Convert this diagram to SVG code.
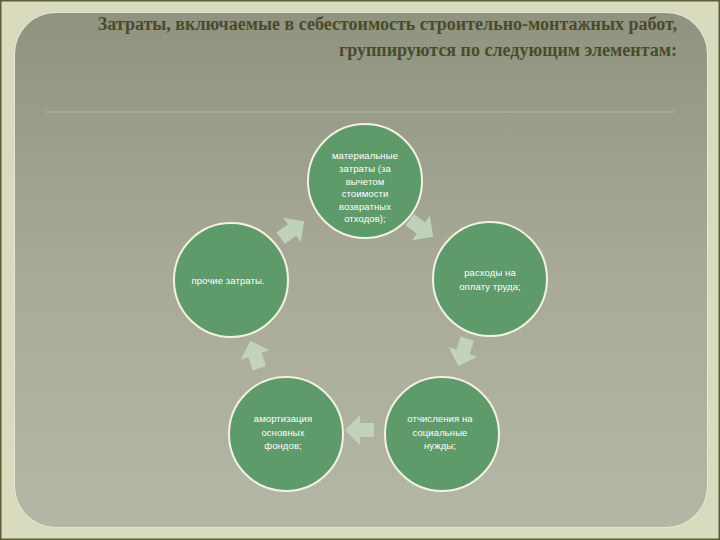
<svg xmlns="http://www.w3.org/2000/svg" width="720" height="540" viewBox="0 0 720 540">
<defs>
<linearGradient id="panel" x1="0" y1="0" x2="0" y2="1">
<stop offset="0" stop-color="#8f937f"/>
<stop offset="0.5" stop-color="#a8aa97"/>
<stop offset="1" stop-color="#b5b7a6"/>
</linearGradient>
<path id="arr" d="M-14,-7 L0,-7 L0,-15 L15,0 L0,15 L0,7 L-14,7 Z"/>
</defs>
<style>
.node circle{fill:#5f9a6a;stroke:#f2f2e4;stroke-width:2}
.node text{fill:#ffffff;font-family:"Liberation Sans Narrow","Liberation Sans",Arial,sans-serif;font-size:9.5px;text-anchor:middle;letter-spacing:0.1px}
.title{fill:#4a4b2c;font-family:"Liberation Serif","Times New Roman",serif;font-size:18px;font-weight:bold;text-anchor:end}
#connectors use{fill:#c5d8c2;opacity:0.85}
</style>
<rect x="0" y="0" width="720" height="540" fill="#d8dbbd"/>
<rect x="0.5" y="0.5" width="719" height="539" fill="none" stroke="#5c5e36" stroke-width="2"/>
<rect x="14" y="12" width="694" height="516" rx="42" fill="#e6e8d0"/>
<rect x="15" y="13" width="692" height="514" rx="41" fill="url(#panel)"/>
<text class="title" x="677" y="30">Затраты, включаемые в себестоимость строительно-монтажных работ,</text>
<text class="title" x="677" y="56">группируются по следующим элементам:</text>
<line x1="45" y1="112" x2="675" y2="112" stroke="#a9bca4" stroke-width="1"/>
<g id="connectors">
<use href="#arr" transform="translate(421,228) rotate(36)"/>
<use href="#arr" transform="translate(463,352) rotate(108)"/>
<use href="#arr" transform="translate(360,430) rotate(180)"/>
<use href="#arr" transform="translate(255,355) rotate(252)"/>
<use href="#arr" transform="translate(292,230) rotate(324)"/>
</g>
<g id="node-material" class="node">
<circle cx="365" cy="181" r="57"/>
<text x="365" y="159">материальные</text>
<text x="365" y="172">затраты (за</text>
<text x="365" y="185">вычетом</text>
<text x="365" y="197">стоимости</text>
<text x="365" y="210">возвратных</text>
<text x="365" y="222">отходов);</text>
</g>
<g id="node-labor" class="node">
<circle cx="490" cy="279" r="57"/>
<text x="490" y="276">расходы на</text>
<text x="490" y="290">оплату труда;</text>
</g>
<g id="node-social" class="node">
<circle cx="442" cy="434" r="57"/>
<text x="440" y="422">отчисления на</text>
<text x="440" y="436">социальные</text>
<text x="440" y="449">нужды;</text>
</g>
<g id="node-depreciation" class="node">
<circle cx="286" cy="434" r="57"/>
<text x="283" y="422">амортизация</text>
<text x="283" y="436">основных</text>
<text x="283" y="449">фондов;</text>
</g>
<g id="node-other" class="node">
<circle cx="231" cy="280" r="57"/>
<text x="228" y="284">прочие затраты.</text>
</g>
</svg>
